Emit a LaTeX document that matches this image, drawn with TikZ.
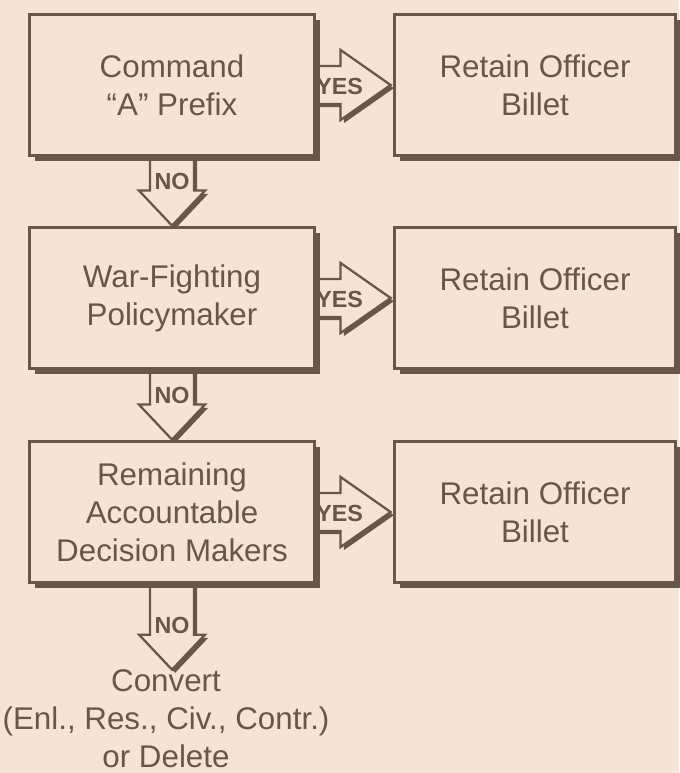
\documentclass[tikz,border=0pt]{standalone}
\usepackage{fontspec}
\setmainfont{Liberation Sans}
\usetikzlibrary{calc,shadows,backgrounds}

\definecolor{paper}{RGB}{243,228,214}
\definecolor{ink}{RGB}{104,86,74}

\tikzset{
  flowbox/.style={draw=ink, line width=2.6pt, fill=paper, text=ink, align=center,
    inner sep=0pt, font=\fontsize{23.5}{28.5}\selectfont,
    drop shadow={shadow xshift=4.2pt, shadow yshift=-4.2pt, fill=ink, opacity=1}},
  leftbox/.style={flowbox, minimum width=214pt, minimum height=106pt},
  rightbox/.style={flowbox, minimum width=211pt, minimum height=106pt},
  blockarrow/.style={draw=ink, line width=1.7pt, fill=paper, line join=miter,
    drop shadow={shadow xshift=2.4pt, shadow yshift=-2.4pt, fill=ink, opacity=1}},
  answer/.style={text=ink, inner sep=0pt, font=\fontsize{17.5}{17.5}\bfseries\selectfont}
}

\begin{document}
\begin{tikzpicture}[x=0.75pt, y=-0.75pt]
  \begin{scope}[on background layer]
    \fill[paper] (0,0) rectangle (679,773);
  \end{scope}
  \useasboundingbox (0,0) rectangle (679,773);

  \node[leftbox] (cmd) at (172,85) {Command\\“A” Prefix};
  \node[leftbox] (war) at (172,298) {War-Fighting\\Policymaker};
  \node[leftbox] (rem) at (172,512) {Remaining\\Accountable\\Decision Makers};
  \node[rightbox] (ret1) at (535,85) {Retain Officer\\Billet};
  \node[rightbox] (ret2) at (535,298) {Retain Officer\\Billet};
  \node[rightbox] (ret3) at (535,512) {Retain Officer\\Billet};
  \node[text=ink, align=center, inner sep=0pt, font=\fontsize{23.5}{28.5}\selectfont]
    (conv) at (166,719) {Convert\\(Enl., Res., Civ., Contr.)\\or Delete};

  % yes arrows
  \foreach \a/\b in {cmd/ret1, war/ret2, rem/ret3} {
    \begin{scope}[on background layer]
      \coordinate (tip) at ($(\b.west)+(-2,0)$);
      \draw[blockarrow] ($(\a.east)+(-6,-19)$) -- ($(tip)+(-50,-19)$)
        -- ($(tip)+(-50,-35)$) -- (tip) -- ($(tip)+(-50,35)$)
        -- ($(tip)+(-50,19)$) -- ($(\a.east)+(-6,19)$);
      \node[answer] (yes\a) at ($(tip)+(-51,1)$) {YES};
    \end{scope}
  }

  % no arrows
  \foreach \a/\b in {cmd/war, war/rem, rem/conv} {
    \begin{scope}[on background layer]
      \coordinate (tip) at (\b.north -| \a.south);
      \draw[blockarrow] ($(\a.south)+(-22,-6)$) -- ($(tip)+(-22,-35)$)
        -- ($(tip)+(-33,-35)$) -- (tip) -- ($(tip)+(33,-35)$)
        -- ($(tip)+(22,-35)$) -- ($(\a.south)+(22,-6)$);
      \node[answer] (no\a) at ($(tip)+(0,-44)$) {NO};
    \end{scope}
  }
\end{tikzpicture}
\end{document}
